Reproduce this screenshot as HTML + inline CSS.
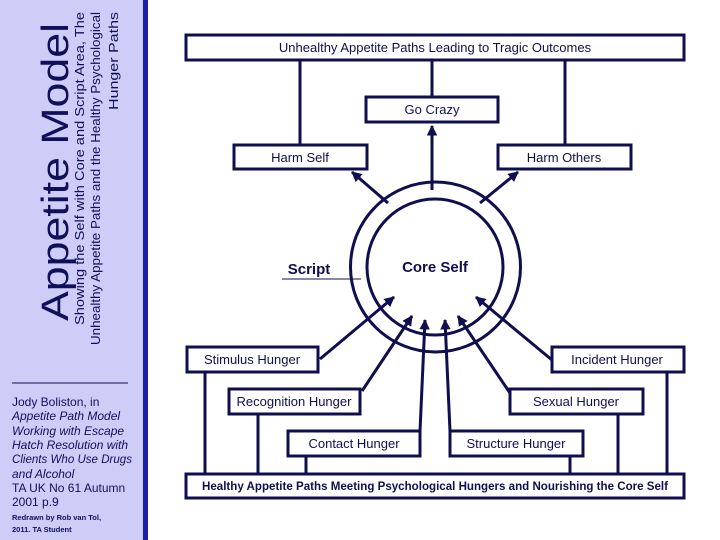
<!DOCTYPE html>
<html><head><meta charset="utf-8"><style>
html,body{margin:0;padding:0;background:#fff;width:720px;height:540px;overflow:hidden}
svg{display:block;font-family:"Liberation Sans","DejaVu Sans",sans-serif}
</style></head><body>
<svg width="720" height="540" viewBox="0 0 720 540" xmlns="http://www.w3.org/2000/svg">
<defs>
<marker id="a" viewBox="0 0 10 10" refX="9" refY="5" markerWidth="3.5" markerHeight="3.5" orient="auto"><path d="M0,0 L10,5 L0,10 z" fill="#0f0f50"/></marker>
</defs>
<rect x="0" y="0" width="143" height="540" fill="#cdcdf8"/>
<rect x="143" y="0" width="5" height="540" fill="#1e1ea8"/>
<text transform="translate(68,172) rotate(-90)" text-anchor="middle" font-size="38" fill="#10105a" textLength="298" lengthAdjust="spacingAndGlyphs">Appetite Model</text>
<g fill="#10105a" font-size="13">
<text transform="translate(84,12) rotate(-90)" text-anchor="end" textLength="313" lengthAdjust="spacingAndGlyphs">Showing the Self with Core and Script Area, The</text>
<text transform="translate(100,12) rotate(-90)" text-anchor="end" textLength="333" lengthAdjust="spacingAndGlyphs">Unhealthy Appetite Paths and the Healthy Psychological</text>
<text transform="translate(118,12) rotate(-90)" text-anchor="end" textLength="98" lengthAdjust="spacingAndGlyphs">Hunger Paths</text>
</g>
<line x1="12" y1="383" x2="128" y2="383" stroke="#10105a" stroke-width="1"/>
<g fill="#10105a" font-size="12">
<text x="12" y="406">Jody Boliston, in</text>
<text x="12" y="420" font-style="italic">Appetite Path Model</text>
<text x="12" y="435" font-style="italic">Working with Escape</text>
<text x="12" y="449" font-style="italic">Hatch Resolution with</text>
<text x="12" y="463" font-style="italic" textLength="120" lengthAdjust="spacingAndGlyphs">Clients Who Use Drugs</text>
<text x="12" y="478" font-style="italic">and Alcohol</text>
<text x="12" y="492">TA UK No 61 Autumn</text>
<text x="12" y="506">2001 p.9</text>
<text x="12" y="520" font-size="7.5" font-weight="bold">Redrawn by Rob van Tol,</text>
<text x="12" y="532" font-size="7.5" font-weight="bold">2011. TA Student</text>
</g>
<g stroke="#0f0f50" stroke-width="3" fill="none">
<rect x="186" y="35" width="498" height="25"/>
<rect x="366" y="97" width="132" height="25"/>
<rect x="234" y="145" width="133" height="24"/>
<rect x="498" y="145" width="133" height="24"/>
<line x1="300" y1="60" x2="300" y2="145"/>
<line x1="432" y1="60" x2="432" y2="97"/>
<line x1="565" y1="60" x2="565" y2="145"/>
<circle cx="435.5" cy="267" r="85"/>
<circle cx="435" cy="267" r="68"/>
<line x1="432" y1="190" x2="432" y2="126" marker-end="url(#a)"/>
<line x1="388" y1="203" x2="352" y2="172" marker-end="url(#a)"/>
<line x1="480" y1="203" x2="518" y2="172" marker-end="url(#a)"/>
<rect x="187" y="347" width="131" height="25"/>
<rect x="552" y="347" width="132" height="25"/>
<rect x="229" y="389" width="131" height="25"/>
<rect x="510" y="389" width="133" height="25"/>
<rect x="288" y="431" width="132" height="25"/>
<rect x="450" y="431" width="133" height="25"/>
<rect x="186" y="474" width="498" height="24"/>
<line x1="320" y1="359" x2="394" y2="297" marker-end="url(#a)"/>
<line x1="362" y1="391" x2="412" y2="316" marker-end="url(#a)"/>
<line x1="420" y1="431" x2="425" y2="320" marker-end="url(#a)"/>
<line x1="450" y1="431" x2="445" y2="320" marker-end="url(#a)"/>
<line x1="510" y1="393" x2="458" y2="316" marker-end="url(#a)"/>
<line x1="552" y1="360" x2="476" y2="297" marker-end="url(#a)"/>
<line x1="205" y1="372" x2="205" y2="474"/>
<line x1="258" y1="414" x2="258" y2="474"/>
<line x1="306" y1="456" x2="306" y2="474"/>
<line x1="570" y1="456" x2="570" y2="474"/>
<line x1="618" y1="414" x2="618" y2="474"/>
<line x1="667" y1="372" x2="667" y2="474"/>
</g>
<line x1="282" y1="279" x2="361" y2="279" stroke="#0f0f50" stroke-width="1"/>
<g fill="#0f0f50" font-size="13" text-anchor="middle">
<text x="435" y="52">Unhealthy Appetite Paths Leading to Tragic Outcomes</text>
<text x="432" y="114">Go Crazy</text>
<text x="300" y="162">Harm Self</text>
<text x="564" y="162">Harm Others</text>
<text x="252" y="364">Stimulus Hunger</text>
<text x="617" y="364">Incident Hunger</text>
<text x="294" y="406">Recognition Hunger</text>
<text x="576" y="406">Sexual Hunger</text>
<text x="354" y="448">Contact Hunger</text>
<text x="516" y="448">Structure Hunger</text>
<text x="435" y="490" font-size="12" font-weight="bold" textLength="466" lengthAdjust="spacingAndGlyphs">Healthy Appetite Paths Meeting Psychological Hungers and Nourishing the Core Self</text>
<text x="309" y="274" font-size="15" font-weight="bold">Script</text>
<text x="435" y="272" font-size="15" font-weight="bold">Core Self</text>
</g>
</svg>
</body></html>
